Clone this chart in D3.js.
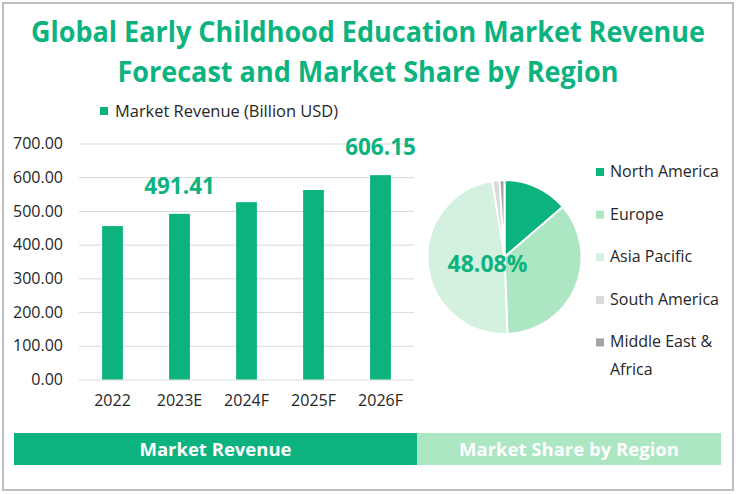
<!DOCTYPE html>
<html>
<head>
<meta charset="utf-8">
<script src="https://cdn.jsdelivr.net/npm/d3@7"></script>
<style>
  body { margin: 0; background: #fff; }
  svg { display: block; font-family: "Open Sans", "Noto Sans", sans-serif; }
</style>
</head>
<body>
<svg width="736" height="494"></svg>
<script>
var years = ["2022", "2023E", "2024F", "2025F", "2026F"],
    revenue = [455, 491.41, 526, 562, 606.15],
    labelled = ["2023E", "2026F"],
    yTicks = [0, 100, 200, 300, 400, 500, 600, 700];

var regions = ["North America", "Europe", "Asia Pacific", "South America", "Middle East & Africa"],
    shares = [13.7, 35.7, 48.08, 1.47, 1.05],
    regionColors = ["#0db37e", "#ace6c3", "#d3f1de", "#d9d9d9", "#a6a6a6"];

var green = "#0db37e",
    textColor = "#262626";

var svg = d3.select("svg");

// frame
svg.append("rect")
    .attr("x", 3).attr("y", 3)
    .attr("width", 730).attr("height", 487)
    .attr("fill", "none")
    .attr("stroke", "#bfbfbf")
    .attr("stroke-width", 2);

// title
var titleLines = [
  {text: "Global Early Childhood Education Market Revenue", y: 42, w: 674},
  {text: "Forecast and Market Share by Region", y: 82, w: 501}
];
svg.selectAll(".title")
  .data(titleLines)
  .enter().append("text")
    .attr("class", "title")
    .attr("x", 368)
    .attr("y", function(d) { return d.y; })
    .attr("text-anchor", "middle")
    .attr("textLength", function(d) { return d.w; })
    .attr("lengthAdjust", "spacingAndGlyphs")
    .attr("fill", green)
    .style("font-size", "28px")
    .style("font-weight", "bold")
    .text(function(d) { return d.text; });

// bar legend
svg.append("rect")
    .attr("x", 100).attr("y", 107)
    .attr("width", 8).attr("height", 8)
    .attr("fill", green);
svg.append("text")
    .attr("x", 115).attr("y", 117)
    .attr("fill", textColor)
    .attr("textLength", 223)
    .attr("lengthAdjust", "spacingAndGlyphs")
    .style("font-size", "16px")
    .text("Market Revenue (Billion USD)");

// bar chart
var x = d3.scaleBand()
    .domain(years)
    .range([79, 414])
    .paddingInner(0.69)
    .paddingOuter(0.345);

var y = d3.scaleLinear()
    .domain([0, 700])
    .range([379.5, 143.5]);

var g = svg.append("g");

g.append("g")
    .attr("transform", "translate(79,0)")
    .call(d3.axisLeft(y).tickValues(yTicks).tickSize(-335).tickPadding(16)
      .tickFormat(d3.format(".2f")))
    .call(function(a) {
      a.select(".domain").remove();
      a.selectAll(".tick line").attr("stroke", "#d9d9d9");
      a.selectAll(".tick text")
        .attr("fill", textColor)
        .style("font-size", "16px")
        .style("font-family", "\"Open Sans\", sans-serif");
    });

g.append("g")
    .attr("transform", "translate(0,379.5)")
    .call(d3.axisBottom(x).tickSize(0).tickPadding(15))
    .call(function(a) {
      a.select(".domain").remove();
      a.selectAll(".tick text")
        .attr("fill", textColor)
        .style("font-size", "16px")
        .style("font-family", "\"Open Sans\", sans-serif");
    });

g.selectAll(".bar")
  .data(years)
  .enter().append("rect")
    .attr("class", "bar")
    .attr("x", function(d) { return x(d); })
    .attr("y", function(d, i) { return y(revenue[i]); })
    .attr("width", x.bandwidth())
    .attr("height", function(d, i) { return y(0) - y(revenue[i]); })
    .attr("fill", green);

g.selectAll(".val")
  .data(years.filter(function(d) { return labelled.indexOf(d) >= 0; }))
  .enter().append("text")
    .attr("class", "val")
    .attr("x", function(d) { return x(d) + x.bandwidth() / 2; })
    .attr("y", function(d) { return y(revenue[years.indexOf(d)]) - 20; })
    .attr("text-anchor", "middle")
    .attr("fill", green)
    .style("font-size", "22.5px")
    .style("font-weight", "bold")
    .text(function(d) { return revenue[years.indexOf(d)].toFixed(2); });

// pie
var pie = d3.pie().sort(null).value(function(d) { return d; });
var arc = d3.arc().innerRadius(0).outerRadius(77);
var pg = svg.append("g").attr("transform", "translate(504.5,257)");

pg.selectAll("path")
  .data(pie(shares))
  .enter().append("path")
    .attr("d", arc)
    .attr("fill", function(d, i) { return regionColors[i]; })
    .attr("stroke", "#fff")
    .attr("stroke-width", 2);

pg.append("text")
    .attr("x", -17).attr("y", 15)
    .attr("text-anchor", "middle")
    .attr("fill", green)
    .style("font-size", "23px")
    .style("font-weight", "bold")
    .text(shares[2].toFixed(2) + "%");

// pie legend
var lg = svg.append("g").attr("transform", "translate(596,0)");
var legendLines = [["North America"], ["Europe"], ["Asia Pacific"], ["South America"], ["Middle East &", "Africa"]];
regions.forEach(function(r, i) {
  var by = 177 + i * 42.6;
  lg.append("rect")
      .attr("x", 0).attr("y", by - 9)
      .attr("width", 8).attr("height", 8)
      .attr("fill", regionColors[i]);
  var t = lg.append("text")
      .attr("x", 14).attr("y", by)
      .attr("fill", textColor)
      .style("font-size", "16px");
  legendLines[i].forEach(function(line, j) {
    t.append("tspan").attr("x", 14).attr("dy", j === 0 ? 0 : 28).text(line);
  });
});

// bottom bands
var bands = [
  {label: "Market Revenue", x0: 14, x1: 417, fill: green},
  {label: "Market Share by Region", x0: 417, x1: 721, fill: "#ade6c3"}
];
svg.selectAll(".band")
  .data(bands)
  .enter().append("rect")
    .attr("class", "band")
    .attr("x", function(d) { return d.x0; })
    .attr("y", 433)
    .attr("width", function(d) { return d.x1 - d.x0; })
    .attr("height", 32)
    .attr("fill", function(d) { return d.fill; });
svg.selectAll(".bandLabel")
  .data(bands)
  .enter().append("text")
    .attr("class", "bandLabel")
    .attr("x", function(d) { return (d.x0 + d.x1) / 2; })
    .attr("y", 456)
    .attr("text-anchor", "middle")
    .attr("fill", "#fff")
    .style("font-size", "18.5px")
    .style("font-weight", "bold")
    .text(function(d) { return d.label; });
</script>
</body>
</html>
